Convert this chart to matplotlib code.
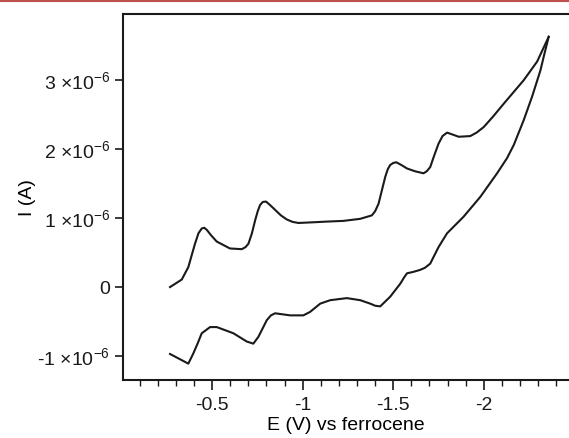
import matplotlib.pyplot as plt
from matplotlib.ticker import MultipleLocator, FuncFormatter
from matplotlib.lines import Line2D

plt.rcParams['font.family'] = ['Liberation Sans', 'DejaVu Sans']
plt.rcParams['mathtext.default'] = 'regular'

# cyclic voltammogram, forward (cathodic) scan, E in V, I in uA
e_fwd = [-0.268, -0.333, -0.369, -0.406, -0.425, -0.443, -0.457, -0.471, -0.495, -0.526,
         -0.599, -0.664, -0.685, -0.701, -0.72, -0.738, -0.752, -0.765, -0.78, -0.798,
         -0.82, -0.848, -0.88, -0.913, -0.945, -0.977, -1.06, -1.134, -1.225, -1.318,
         -1.382, -1.40, -1.419, -1.437, -1.456, -1.47, -1.483, -1.50, -1.517, -1.545,
         -1.576, -1.62, -1.667, -1.685, -1.704, -1.725, -1.75, -1.772, -1.797, -1.83,
         -1.861, -1.925, -1.96, -1.999, -2.05, -2.11, -2.22, -2.294, -2.358]
i_fwd = [0.0, 0.11, 0.29, 0.63, 0.78, 0.85, 0.86, 0.83, 0.75, 0.66,
         0.56, 0.55, 0.58, 0.63, 0.78, 0.97, 1.10, 1.19, 1.235, 1.24,
         1.19, 1.12, 1.04, 0.98, 0.945, 0.93, 0.94, 0.95, 0.96, 0.99,
         1.04, 1.10, 1.21, 1.40, 1.60, 1.71, 1.77, 1.80, 1.81, 1.77,
         1.72, 1.68, 1.65, 1.68, 1.74, 1.90, 2.08, 2.19, 2.24, 2.21,
         2.18, 2.19, 2.24, 2.32, 2.47, 2.66, 3.0, 3.27, 3.63]

# return (anodic) scan
e_rev = [-2.358, -2.335, -2.312, -2.266, -2.22, -2.165, -2.128, -2.073, -1.981, -1.888,
         -1.797, -1.75, -1.704, -1.675, -1.649, -1.61, -1.576, -1.56, -1.539, -1.483,
         -1.428, -1.40, -1.373, -1.318, -1.244, -1.152, -1.097, -1.041, -1.004, -0.931,
         -0.848, -0.825, -0.802, -0.756, -0.728, -0.692, -0.618, -0.526, -0.489, -0.443,
         -0.42, -0.397, -0.369, -0.333, -0.268]
i_rev = [3.63, 3.39, 3.14, 2.76, 2.42, 2.06, 1.87, 1.65, 1.31, 1.02,
         0.78, 0.58, 0.34, 0.28, 0.25, 0.22, 0.20, 0.14, 0.05, -0.14,
         -0.28, -0.27, -0.24, -0.19, -0.16, -0.19, -0.24, -0.36, -0.41, -0.41,
         -0.38, -0.41, -0.48, -0.72, -0.82, -0.79, -0.67, -0.58, -0.58, -0.67,
         -0.82, -0.96, -1.11, -1.06, -0.97]

fig = plt.figure(figsize=(5.69, 4.38), dpi=100)
ax = fig.add_axes([0.216, 0.132, 0.784, 0.836])

ax.plot(e_fwd, [v * 1e-6 for v in i_fwd], color='#1a1a1a', lw=1.5,
        solid_joinstyle='round')
ax.plot(e_rev, [v * 1e-6 for v in i_rev], color='#1a1a1a', lw=1.5,
        solid_joinstyle='round')

ax.set_xlim(-0.008, -2.47)
ax.set_ylim(-1.35e-6, 3.96e-6)

ax.xaxis.set_major_locator(MultipleLocator(0.5))
ax.xaxis.set_minor_locator(MultipleLocator(0.1))
ax.xaxis.set_major_formatter(FuncFormatter(lambda v, p: '%g' % v if v != 0 else ''))
ax.yaxis.set_major_locator(MultipleLocator(1e-6))

def yfmt(v, p):
    n = int(round(v * 1e6))
    if n == 0:
        return '0'
    return '%d ×10$^{-6}$' % n

ax.yaxis.set_major_formatter(FuncFormatter(yfmt))

ax.spines['right'].set_visible(False)
for s in ['left', 'top', 'bottom']:
    ax.spines[s].set_linewidth(1.5)
    ax.spines[s].set_color('#1a1a1a')

ax.tick_params(axis='x', which='major', direction='out', length=7, width=1.2,
               labelsize=14, pad=5, colors='#1a1a1a')
ax.tick_params(axis='x', which='minor', direction='out', length=4, width=1.0,
               colors='#1a1a1a')
ax.tick_params(axis='y', which='major', direction='out', length=6, width=1.2,
               labelsize=14, pad=3, colors='#1a1a1a')

ax.set_xlabel('E (V) vs ferrocene', fontsize=14, labelpad=2)
ax.set_ylabel('I (A)', fontsize=14, labelpad=1)

fig.add_artist(Line2D([0, 1], [0.998, 0.998], transform=fig.transFigure,
                      color='#c0504d', lw=1.5))

fig.savefig('out.png', dpi=100)
